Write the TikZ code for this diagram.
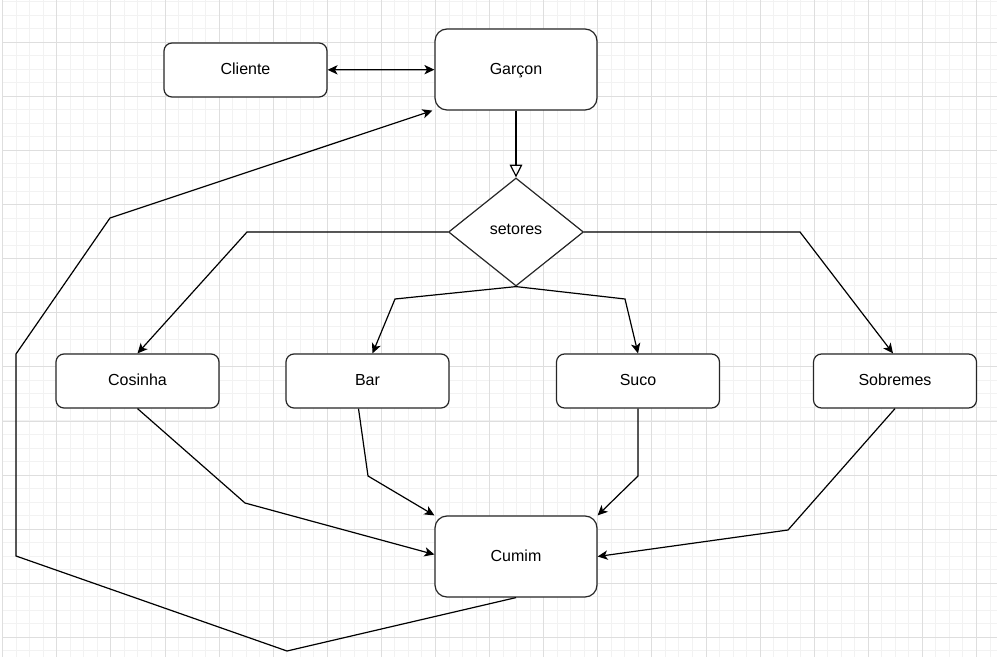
\documentclass[tikz,border=0pt]{standalone}
\usepackage{fontspec}
\setmainfont{Liberation Sans}
\usetikzlibrary{arrows.meta,shapes.geometric}
\definecolor{gridminor}{HTML}{F2F2F2}
\definecolor{gridmajor}{HTML}{DEDEDE}
\definecolor{stroke}{HTML}{262626}
\tikzset{
  box/.style={draw=stroke, line width=0.9pt, fill=white, rounded corners=6pt,
    minimum width=122.25pt, minimum height=40.5pt, inner sep=0pt,
    text height=0.72em, text depth=0pt,
    font=\fontsize{12}{14}\selectfont},
  bigbox/.style={box, rounded corners=9pt, minimum width=121.5pt, minimum height=60.75pt},
  dia/.style={diamond, draw=stroke, line width=0.9pt, fill=white, aspect=1.25,
    minimum width=101.25pt, minimum height=81pt, inner sep=0pt,
    text height=0.37em, text depth=0pt,
    font=\fontsize{12}{14}\selectfont},
  conn/.style={draw=black, line width=0.9pt, -{Stealth[length=7.5pt,width=7pt,inset=2pt]}},
  dconn/.style={draw=black, line width=0.9pt, {Stealth[length=7.5pt,width=7pt,inset=2pt]}-{Stealth[length=7.5pt,width=7pt,inset=2pt]}},
  oconn/.style={draw=black, line width=0.9pt, -{Triangle[open,length=9.5pt,width=9.5pt]}},
}
\begin{document}
\begin{tikzpicture}[x=0.75pt,y=-0.75pt]
\useasboundingbox (0,0) rectangle (1005,666);
\fill[white] (0,0) rectangle (1005,666);
% grid
\foreach \i in {0,...,73} \draw[gridminor, line width=0.75pt] ({2.7+13.525*\i},0) -- ({2.7+13.525*\i},657);
\foreach \j in {0,...,48} \draw[gridminor, line width=0.75pt] (2,{1.7+13.525*\j}) -- (997,{1.7+13.525*\j});
\foreach \i in {0,...,18} \draw[gridmajor, line width=0.75pt] ({2.7+54.1*\i},0) -- ({2.7+54.1*\i},657);
\foreach \j in {0,...,11} \draw[gridmajor, line width=0.75pt] (2,{42.3+54.1*\j}) -- (997,{42.3+54.1*\j});
% nodes
\node[box] (cliente) at (245.5,70) {Cliente};
\node[bigbox] (garcon) at (516,69.5) {Garçon};
\node[dia] (setores) at (516,232) {setores};
\node[box] (cosinha) at (137.5,381) {Cosinha};
\node[box] (bar) at (367.5,381) {Bar};
\node[box] (suco) at (638,381) {Suco};
\node[box] (sobremes) at (895,381) {Sobremes};
\node[bigbox] (cumim) at (516,556.5) {Cumim};
% edges
\draw[dconn] (cliente) -- (garcon);
\draw[oconn] (garcon.south) -- (setores.north);
\draw[conn] (setores.west) -- (247,232) -- (cosinha.north);
\draw[conn] (setores.south) -- (395,299) -- ([xshift=3.75pt]bar.north);
\draw[conn] (setores.south) -- (625,299) -- (suco.north);
\draw[conn] (setores.east) -- (800,232) -- ([xshift=-1.5pt]sobremes.north);
\draw[conn] (cosinha.south) -- (245,503) -- ([yshift=1.5pt]cumim.west);
\draw[conn] ([xshift=-6.75pt]bar.south) -- (368,476) -- (cumim.north west);
\draw[conn] (suco.south) -- (638,476) -- (cumim.north east);
\draw[conn] (sobremes.south) -- (788,530) -- (cumim.east);
\draw[conn] (cumim.south) -- (287,651) -- (16,556) -- (16,354) -- (110,218) -- ([xshift=-1.5pt]garcon.south west);
\end{tikzpicture}
\end{document}
